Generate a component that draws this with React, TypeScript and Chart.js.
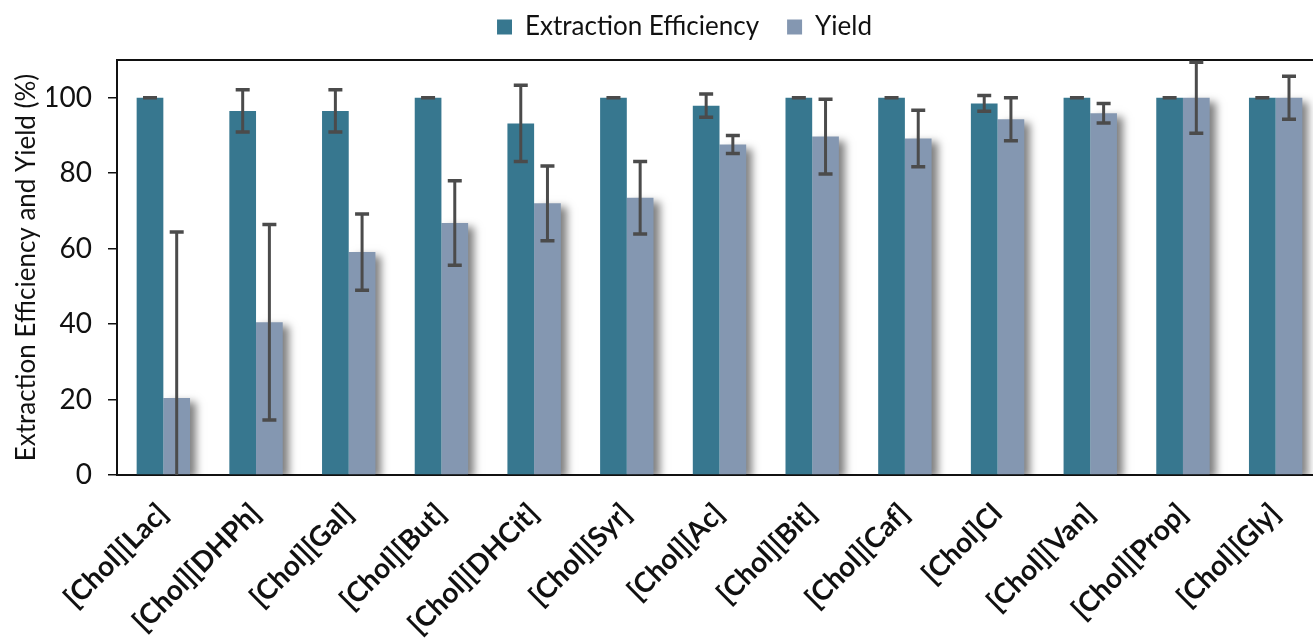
import React, { useEffect, useRef } from "react";
import { Chart, registerables } from "chart.js";

Chart.register(...registerables);

const categories = [
  "[Chol][Lac]",
  "[Chol][DHPh]",
  "[Chol][Gal]",
  "[Chol][But]",
  "[Chol][DHCit]",
  "[Chol][Syr]",
  "[Chol][Ac]",
  "[Chol][Bit]",
  "[Chol][Caf]",
  "[Chol]Cl",
  "[Chol][Van]",
  "[Chol][Prop]",
  "[Chol][Gly]",
];
const extractionEfficiency = [100, 96.5, 96.5, 100, 93.2, 100, 97.9, 100, 100, 98.5, 100, 100, 100];
const extractionErr = [0, 5.6, 5.6, 0, 10.1, 0, 3.1, 0, 0, 2.1, 0, 0, 0];
const yieldValues = [20.4, 40.5, 59.1, 66.8, 72.0, 73.5, 87.6, 89.7, 89.2, 94.3, 95.9, 100, 100];
const yieldErr = [44, 25.9, 10.1, 11.2, 9.9, 9.6, 2.4, 9.9, 7.5, 5.7, 2.6, 9.4, 5.7];
const yTicks = [0, 20, 40, 60, 80, 100];

const FONT = "Lato, 'Open Sans', sans-serif";
const EE_COLOR = "#37778f";
const YIELD_COLOR = "#8497b1";

const shadowPlugin = {
  id: "barShadow",
  beforeDatasetDraw(chart: any, args: any) {
    if (args.index !== 1) return;
    const ctx = chart.ctx;
    ctx.save();
    ctx.shadowColor = "rgba(0,0,0,0.5)";
    ctx.shadowBlur = 8;
    ctx.shadowOffsetX = 6;
    ctx.shadowOffsetY = 4;
  },
  afterDatasetDraw(chart: any, args: any) {
    if (args.index !== 1) return;
    chart.ctx.restore();
  },
};

const errorBarPlugin = {
  id: "errorBars",
  afterDatasetsDraw(chart: any) {
    const ctx = chart.ctx;
    const yScale = chart.scales.y;
    const area = chart.chartArea;
    const errs = [extractionErr, yieldErr];
    ctx.save();
    ctx.beginPath();
    ctx.rect(area.left, area.top - 3, area.right - area.left, area.bottom - area.top + 3);
    ctx.clip();
    ctx.strokeStyle = "#4b4b4b";
    chart.data.datasets.forEach((ds: any, i: number) => {
      const meta = chart.getDatasetMeta(i);
      meta.data.forEach((bar: any, j: number) => {
        const v = ds.data[j];
        const e = errs[i][j];
        const top = yScale.getPixelForValue(v + e);
        const bot = yScale.getPixelForValue(v - e);
        const x = bar.x;
        const cap = 7;
        ctx.lineWidth = 3;
        if (e > 0) {
          ctx.beginPath();
          ctx.moveTo(x, top);
          ctx.lineTo(x, bot);
          ctx.stroke();
        }
        ctx.lineWidth = 3.5;
        ctx.beginPath();
        ctx.moveTo(x - cap, top);
        ctx.lineTo(x + cap, top);
        ctx.moveTo(x - cap, bot);
        ctx.lineTo(x + cap, bot);
        ctx.stroke();
      });
    });
    ctx.restore();
  },
};

export default function App() {
  const ref = useRef<HTMLCanvasElement | null>(null);

  useEffect(() => {
    if (!ref.current) return;
    const chart = new Chart(ref.current, {
      type: "bar",
      data: {
        labels: categories,
        datasets: [
          {
            label: "Extraction Efficiency",
            data: extractionEfficiency,
            backgroundColor: EE_COLOR,
            barPercentage: 1,
            categoryPercentage: 0.576,
          },
          {
            label: "Yield",
            data: yieldValues,
            backgroundColor: YIELD_COLOR,
            barPercentage: 1,
            categoryPercentage: 0.576,
          },
        ],
      },
      options: {
        animation: false,
        responsive: false,
        devicePixelRatio: 1,
        layout: { padding: { left: 47, right: 0, top: -14, bottom: 0 } },
        plugins: {
          legend: {
            position: "top",
            labels: {
              font: { family: FONT, size: 26 },
              color: "#111",
              boxWidth: 15,
              boxHeight: 15,
              padding: 28,
            },
          },
          tooltip: { enabled: false },
        },
        scales: {
          x: {
            grid: { display: false, drawTicks: false },
            border: { display: true, color: "#111", width: 2 },
            ticks: {
              autoSkip: false,
              maxRotation: 45,
              minRotation: 45,
              padding: 22,
              color: "#111",
              font: { family: FONT, size: 28, weight: "bold" },
            },
            afterFit: (s: any) => {
              s.height = 163;
            },
          },
          xTop: {
            type: "category",
            position: "top",
            grid: { display: false, drawTicks: false },
            border: { display: true, color: "#111", width: 2 },
            ticks: { display: false },
            afterFit: (s: any) => {
              s.height = 10;
            },
          },
          y: {
            min: 0,
            max: 110,
            afterBuildTicks: (s: any) => {
              s.ticks = yTicks.map((v) => ({ value: v }));
            },
            grid: {
              display: true,
              drawOnChartArea: false,
              drawTicks: true,
              tickLength: 9,
              color: "#111",
              lineWidth: 1.5,
            },
            border: { display: true, color: "#111", width: 2 },
            ticks: {
              padding: 16,
              color: "#111",
              font: { family: FONT, size: 28 },
            },
            title: {
              display: true,
              text: "Extraction Efficiency and Yield (%)",
              color: "#111",
              font: { family: FONT, size: 26 },
              padding: { top: -36, bottom: 0 },
            },
            afterFit: (s: any) => {
              s.width = 70;
            },
          },
        },
      },
      plugins: [shadowPlugin, errorBarPlugin],
    });
    return () => chart.destroy();
  }, []);

  return (
    <div
      style={{
        position: "fixed",
        left: 0,
        top: 0,
        width: 1313,
        height: 638,
        overflow: "hidden",
        background: "#fff",
      }}
    >
      <canvas ref={ref} width={1322} height={638} style={{ width: 1322, height: 638, display: "block" }} />
    </div>
  );
}
